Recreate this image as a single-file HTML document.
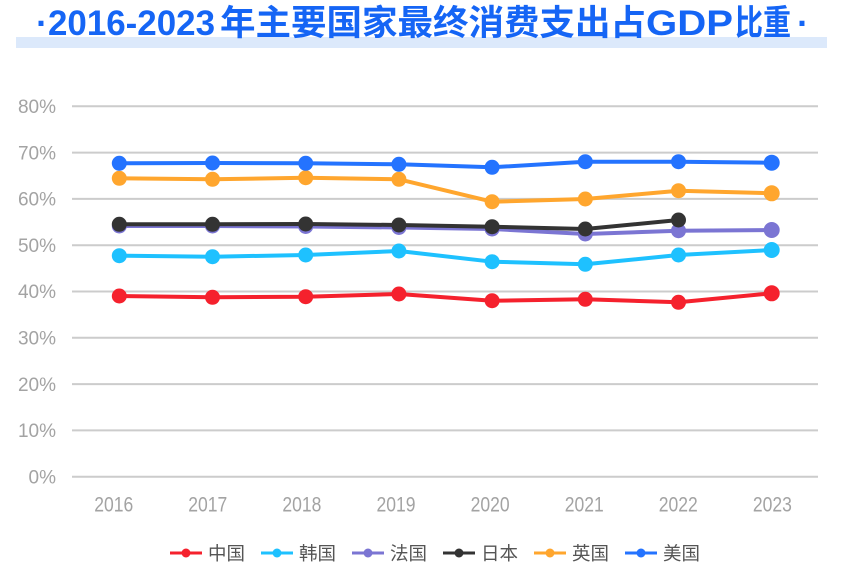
<!DOCTYPE html>
<html>
<head>
<meta charset="utf-8">
<style>
  html, body { margin: 0; padding: 0; background: #ffffff; }
  body { width: 841px; height: 569px; overflow: hidden; }
  svg { display: block; }
  .t { font-family: "Liberation Sans", "Noto Sans CJK SC", sans-serif; font-weight: bold; fill: #1565f5; }
  .ax { font-family: "Liberation Sans", "Noto Sans CJK SC", sans-serif; fill: #a3a3a3; }
  .lg { font-family: "Liberation Sans", "Noto Sans CJK SC", sans-serif; fill: #555555; font-size: 18.5px; }
</style>
</head>
<body>
<svg width="841" height="569" viewBox="0 0 841 569" xmlns="http://www.w3.org/2000/svg">
  <!-- title band -->
  <rect x="16" y="37" width="811" height="11" fill="#dce9fb"/>
  <!-- title -->
  <text class="t" x="42" y="35" font-size="35" text-anchor="middle">·</text>
  <text class="t" x="48" y="35" font-size="35" textLength="167" lengthAdjust="spacingAndGlyphs">2016-2023</text>
  <text class="t" x="220" y="35" font-size="35" textLength="426" lengthAdjust="spacingAndGlyphs">年主要国家最终消费支出占</text>
  <text class="t" x="646" y="35" font-size="35" textLength="87" lengthAdjust="spacingAndGlyphs">GDP</text>
  <text class="t" x="735" y="35" font-size="35" textLength="56" lengthAdjust="spacingAndGlyphs">比重</text>
  <text class="t" x="803" y="35" font-size="35" text-anchor="middle">·</text>

  <!-- gridlines -->
  <g stroke="#cccccc" stroke-width="2">
    <line x1="72" y1="106.3" x2="818" y2="106.3"/>
    <line x1="72" y1="152.6" x2="818" y2="152.6"/>
    <line x1="72" y1="198.9" x2="818" y2="198.9"/>
    <line x1="72" y1="245.2" x2="818" y2="245.2"/>
    <line x1="72" y1="291.5" x2="818" y2="291.5"/>
    <line x1="72" y1="337.8" x2="818" y2="337.8"/>
    <line x1="72" y1="384.1" x2="818" y2="384.1"/>
    <line x1="72" y1="430.4" x2="818" y2="430.4"/>
    <line x1="72" y1="476.7" x2="818" y2="476.7"/>
  </g>

  <!-- y labels -->
  <g class="ax" font-size="19" text-anchor="end">
    <text x="56" y="113">80%</text>
    <text x="56" y="159.3">70%</text>
    <text x="56" y="205.6">60%</text>
    <text x="56" y="251.9">50%</text>
    <text x="56" y="298.2">40%</text>
    <text x="56" y="344.5">30%</text>
    <text x="56" y="390.8">20%</text>
    <text x="56" y="437.1">10%</text>
    <text x="56" y="483.4">0%</text>
  </g>

  <!-- x labels -->
  <g class="ax" font-size="21">
    <text x="94.2" y="511.5" textLength="39" lengthAdjust="spacingAndGlyphs">2016</text>
    <text x="188.3" y="511.5" textLength="39" lengthAdjust="spacingAndGlyphs">2017</text>
    <text x="282.4" y="511.5" textLength="39" lengthAdjust="spacingAndGlyphs">2018</text>
    <text x="376.5" y="511.5" textLength="39" lengthAdjust="spacingAndGlyphs">2019</text>
    <text x="470.6" y="511.5" textLength="39" lengthAdjust="spacingAndGlyphs">2020</text>
    <text x="564.7" y="511.5" textLength="39" lengthAdjust="spacingAndGlyphs">2021</text>
    <text x="658.8" y="511.5" textLength="39" lengthAdjust="spacingAndGlyphs">2022</text>
    <text x="752.9" y="511.5" textLength="39" lengthAdjust="spacingAndGlyphs">2023</text>
  </g>

  <!-- China -->
  <g fill="#f5212d">
    <polyline fill="none" stroke="#f5212d" stroke-width="4" stroke-linejoin="round" points="119.3,296 212.5,297.3 305.7,296.7 398.9,294 492.1,300.7 585.3,299.3 678.5,302.3 771.7,293.3"/>
    <circle cx="119.3" cy="296" r="7.5"/><circle cx="212.5" cy="297.3" r="7.5"/><circle cx="305.7" cy="296.7" r="7.5"/><circle cx="398.9" cy="294" r="7.5"/>
    <circle cx="492.1" cy="300.7" r="7.5"/><circle cx="585.3" cy="299.3" r="7.5"/><circle cx="678.5" cy="302.3" r="7.5"/><circle cx="771.7" cy="293.3" r="8"/>
  </g>
  <!-- Korea -->
  <g fill="#1ec1ff">
    <polyline fill="none" stroke="#1ec1ff" stroke-width="4" stroke-linejoin="round" points="119.3,255.7 212.5,256.7 305.7,255 398.9,251 492.1,261.7 585.3,264.3 678.5,255 771.7,250"/>
    <circle cx="119.3" cy="255.7" r="7.5"/><circle cx="212.5" cy="256.7" r="7.5"/><circle cx="305.7" cy="255" r="7.5"/><circle cx="398.9" cy="251" r="7.5"/>
    <circle cx="492.1" cy="261.7" r="7.5"/><circle cx="585.3" cy="264.3" r="7.5"/><circle cx="678.5" cy="255" r="7.5"/><circle cx="771.7" cy="250" r="8"/>
  </g>
  <!-- France -->
  <g fill="#7b75d3">
    <polyline fill="none" stroke="#7b75d3" stroke-width="4" stroke-linejoin="round" points="119.3,226 212.5,226 305.7,226.5 398.9,227.5 492.1,229 585.3,234 678.5,230.7 771.7,230"/>
    <circle cx="119.3" cy="226" r="7.5"/><circle cx="212.5" cy="226" r="7.5"/><circle cx="305.7" cy="226.5" r="7.5"/><circle cx="398.9" cy="227.5" r="7.5"/>
    <circle cx="492.1" cy="229" r="7.5"/><circle cx="585.3" cy="234" r="7.5"/><circle cx="678.5" cy="230.7" r="7.5"/><circle cx="771.7" cy="230" r="8"/>
  </g>
  <!-- Japan -->
  <g fill="#333333">
    <polyline fill="none" stroke="#333333" stroke-width="4" stroke-linejoin="round" points="119.3,224.3 212.5,224.3 305.7,224 398.9,225 492.1,226.7 585.3,229 678.5,220"/>
    <circle cx="119.3" cy="224.3" r="7.5"/><circle cx="212.5" cy="224.3" r="7.5"/><circle cx="305.7" cy="224" r="7.5"/><circle cx="398.9" cy="225" r="7.5"/>
    <circle cx="492.1" cy="226.7" r="7.5"/><circle cx="585.3" cy="229" r="7.5"/><circle cx="678.5" cy="220" r="7.5"/>
  </g>
  <!-- UK -->
  <g fill="#ffa62e">
    <polyline fill="none" stroke="#ffa62e" stroke-width="4" stroke-linejoin="round" points="119.3,178.3 212.5,179.3 305.7,177.7 398.9,179.3 492.1,201.7 585.3,199 678.5,190.7 771.7,193.3"/>
    <circle cx="119.3" cy="178.3" r="7.5"/><circle cx="212.5" cy="179.3" r="7.5"/><circle cx="305.7" cy="177.7" r="7.5"/><circle cx="398.9" cy="179.3" r="7.5"/>
    <circle cx="492.1" cy="201.7" r="7.5"/><circle cx="585.3" cy="199" r="7.5"/><circle cx="678.5" cy="190.7" r="7.5"/><circle cx="771.7" cy="193.3" r="8"/>
  </g>
  <!-- US -->
  <g fill="#2473ff">
    <polyline fill="none" stroke="#2473ff" stroke-width="4" stroke-linejoin="round" points="119.3,163.3 212.5,163 305.7,163.3 398.9,164.3 492.1,167.3 585.3,161.7 678.5,161.7 771.7,162.7"/>
    <circle cx="119.3" cy="163.3" r="7.5"/><circle cx="212.5" cy="163" r="7.5"/><circle cx="305.7" cy="163.3" r="7.5"/><circle cx="398.9" cy="164.3" r="7.5"/>
    <circle cx="492.1" cy="167.3" r="7.5"/><circle cx="585.3" cy="161.7" r="7.5"/><circle cx="678.5" cy="161.7" r="7.5"/><circle cx="771.7" cy="162.7" r="8"/>
  </g>

  <!-- legend -->
  <g>
    <line x1="170" y1="553" x2="202" y2="553" stroke="#f5212d" stroke-width="3"/>
    <circle cx="186" cy="553" r="4.5" fill="#f5212d"/>
    <text class="lg" x="208" y="560">中国</text>

    <line x1="261" y1="553" x2="293" y2="553" stroke="#1ec1ff" stroke-width="3"/>
    <circle cx="277" cy="553" r="4.5" fill="#1ec1ff"/>
    <text class="lg" x="299" y="560">韩国</text>

    <line x1="352" y1="553" x2="384" y2="553" stroke="#7b75d3" stroke-width="3"/>
    <circle cx="368" cy="553" r="4.5" fill="#7b75d3"/>
    <text class="lg" x="390" y="560">法国</text>

    <line x1="443" y1="553" x2="475" y2="553" stroke="#333333" stroke-width="3"/>
    <circle cx="459" cy="553" r="4.5" fill="#333333"/>
    <text class="lg" x="481" y="560">日本</text>

    <line x1="534" y1="553" x2="566" y2="553" stroke="#ffa62e" stroke-width="3"/>
    <circle cx="550" cy="553" r="4.5" fill="#ffa62e"/>
    <text class="lg" x="572" y="560">英国</text>

    <line x1="625" y1="553" x2="657" y2="553" stroke="#2473ff" stroke-width="3"/>
    <circle cx="641" cy="553" r="4.5" fill="#2473ff"/>
    <text class="lg" x="663" y="560">美国</text>
  </g>
</svg>
</body>
</html>
